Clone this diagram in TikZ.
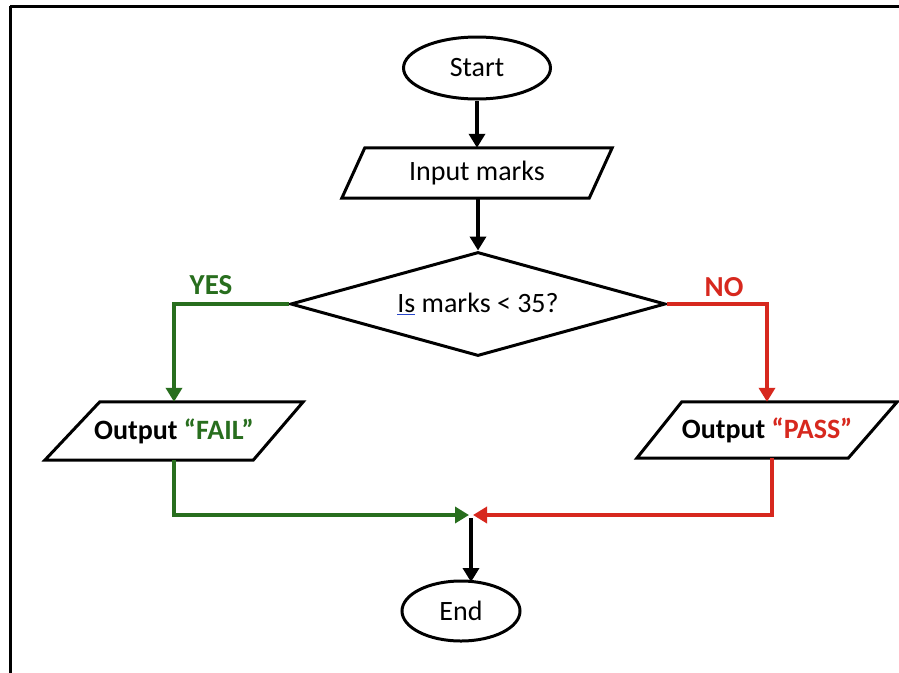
\documentclass[tikz,border=0pt]{standalone}
\usepackage{fontspec}
\setmainfont{Carlito}
\usetikzlibrary{shapes.geometric,arrows.meta}
\definecolor{ygreen}{RGB}{40,110,30}
\definecolor{nred}{RGB}{215,40,30}
\definecolor{spellblue}{RGB}{40,70,200}
\begin{document}
\begin{tikzpicture}[x=1pt,y=-1pt,
  every node/.style={font=\fontsize{28}{32}\selectfont},
  shp/.style={draw=black,line width=3pt},
  term/.style={shp,fill=white,ellipse,minimum width=147pt,minimum height=62pt,inner sep=0pt},
  box/.style={inner sep=0pt},
  dec/.style={shp,fill=white,diamond,aspect=3.6,inner sep=0pt,minimum width=375pt,minimum height=104pt},
  conn/.style={line width=4pt,-{Triangle[length=14pt,width=16pt]}},
  lbl/.style={font=\fontsize{29}{32}\selectfont\bfseries}]
\useasboundingbox (0,0) rectangle (899,672);
\fill[white] (0,0) rectangle (899,672);
\draw[line width=3pt] (10,6) -- (920,6);
\draw[line width=3pt] (10,6) -- (10,690);
\node[term] (start) at (477,68) {Start};
\node[box,minimum width=270pt,minimum height=50pt] (input) at (477,173) {Input marks};
\draw[shp] ([xshift=23pt]input.north west) -- (input.north east) -- ([xshift=-23pt]input.south east) -- (input.south west) -- cycle;
\node[dec] (dec) at (478,304) {{\color{spellblue}\underline{\textcolor{black}{Is}}} marks < 35?};
\node[box,minimum width=258pt,minimum height=58pt,font=\fontsize{28}{32}\selectfont\bfseries] (fail) at (174,431) {Output \textcolor{ygreen}{“FAIL”}};
\draw[shp] ([xshift=55pt]fail.north west) -- (fail.north east) -- ([xshift=-50pt]fail.south east) -- (fail.south west) -- cycle;
\node[box,minimum width=260pt,minimum height=56pt,font=\fontsize{28}{32}\selectfont\bfseries] (pass) at (767,430) {Output \textcolor{nred}{“PASS”}};
\draw[shp] ([xshift=45pt]pass.north west) -- (pass.north east) -- ([xshift=-49pt]pass.south east) -- (pass.south west) -- cycle;
\node[term,minimum width=118pt,minimum height=60pt] (end) at (461,611) {End};
\coordinate (join) at (471,515);
\node[lbl,text=ygreen] (yes) at (211,285) {YES};
\node[lbl,text=nred] (no) at (724,287) {NO};
\draw[conn] (start) -- (input.north -| start);
\draw[conn] (input.south -| dec) -- (dec.north);
\draw[conn,ygreen] (dec.west) -| (fail.north);
\draw[conn,nred] (dec.east) -| (pass.north);
\draw[conn,ygreen] (fail.south) |- ([xshift=-2pt]join);
\draw[conn,nred] ([xshift=5pt]pass.south) |- ([xshift=2pt]join);
\draw[conn] ([yshift=-3pt]join) -- ([yshift=29pt]join |- end.center);
\end{tikzpicture}
\end{document}
